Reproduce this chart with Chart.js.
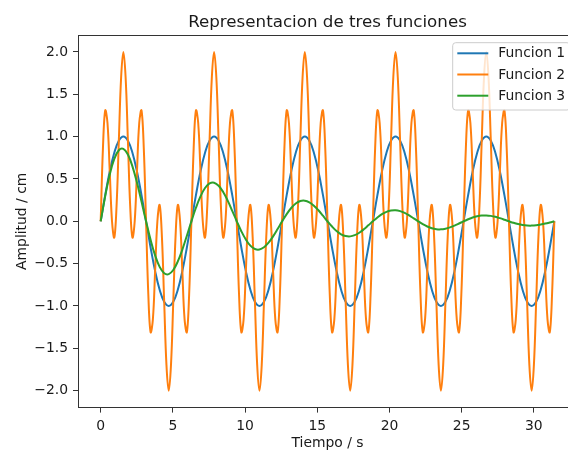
<!DOCTYPE html>
<html><head><meta charset="utf-8">
<script src="https://cdn.jsdelivr.net/npm/chart.js@4/dist/chart.umd.min.js"></script>
<style>html,body{margin:0;padding:0;overflow:hidden;background:#fff;width:568px;height:452px}
#wrap{width:600px;height:452px}</style></head>
<body><div id="wrap"><canvas id="c" width="600" height="452" style="width:600px;height:452px"></canvas></div>
<script>
// Time samples for Funcion 2 (fine step)
const T = [0,0.157,0.314,0.471,0.628,0.785,0.942,1.100,1.257,1.414,1.571,1.728,1.885,2.042,2.199,2.356,2.513,2.670,2.827,2.985,
3.142,3.299,3.456,3.613,3.770,3.927,4.084,4.241,4.398,4.555,4.712,4.869,5.027,5.184,5.341,5.498,5.655,5.812,5.969,6.126,
6.283,6.440,6.597,6.754,6.912,7.069,7.226,7.383,7.540,7.697,7.854,8.011,8.168,8.325,8.482,8.639,8.796,8.954,9.111,9.268,
9.425,9.582,9.739,9.896,10.053,10.210,10.367,10.524,10.681,10.838,10.996,11.153,11.310,11.467,11.624,11.781,11.938,12.095,12.252,12.409,
12.566,12.723,12.881,13.038,13.195,13.352,13.509,13.666,13.823,13.980,14.137,14.294,14.451,14.608,14.765,14.923,15.080,15.237,15.394,15.551,
15.708,15.865,16.022,16.179,16.336,16.493,16.650,16.808,16.965,17.122,17.279,17.436,17.593,17.750,17.907,18.064,18.221,18.378,18.535,18.692,
18.850,19.007,19.164,19.321,19.478,19.635,19.792,19.949,20.106,20.263,20.420,20.577,20.735,20.892,21.049,21.206,21.363,21.520,21.677,21.834,
21.991,22.148,22.305,22.462,22.619,22.777,22.934,23.091,23.248,23.405,23.562,23.719,23.876,24.033,24.190,24.347,24.504,24.662,24.819,24.976,
25.133,25.290,25.447,25.604,25.761,25.918,26.075,26.232,26.389,26.546,26.704,26.861,27.018,27.175,27.332,27.489,27.646,27.803,27.960,28.117,
28.274,28.431,28.588,28.746,28.903,29.060,29.217,29.374,29.531,29.688,29.845,30.002,30.159,30.316,30.473,30.631,30.788,30.945,31.102,31.259,
31.416];
const F2 = [0,0.864,1.309,1.161,0.588,0,-0.191,0.184,0.951,1.695,2,1.695,0.951,0.184,-0.191,0,0.588,1.161,1.309,0.864,0,-0.864,-1.309,-1.161,-0.588,0,0.191,-0.184,-0.951,-1.695,-2,-1.695,-0.951,-0.184,0.191,0,-0.588,-1.161,-1.309,-0.864,
0,0.864,1.309,1.161,0.588,0,-0.191,0.184,0.951,1.695,2,1.695,0.951,0.184,-0.191,0,0.588,1.161,1.309,0.864,0,-0.864,-1.309,-1.161,-0.588,0,0.191,-0.184,-0.951,-1.695,-2,-1.695,-0.951,-0.184,0.191,0,-0.588,-1.161,-1.309,-0.864,
0,0.864,1.309,1.161,0.588,0,-0.191,0.184,0.951,1.695,2,1.695,0.951,0.184,-0.191,0,0.588,1.161,1.309,0.864,0,-0.864,-1.309,-1.161,-0.588,0,0.191,-0.184,-0.951,-1.695,-2,-1.695,-0.951,-0.184,0.191,0,-0.588,-1.161,-1.309,-0.864,
0,0.864,1.309,1.161,0.588,0,-0.191,0.184,0.951,1.695,2,1.695,0.951,0.184,-0.191,0,0.588,1.161,1.309,0.864,0,-0.864,-1.309,-1.161,-0.588,0,0.191,-0.184,-0.951,-1.695,-2,-1.695,-0.951,-0.184,0.191,0,-0.588,-1.161,-1.309,-0.864,
0,0.864,1.309,1.161,0.588,0,-0.191,0.184,0.951,1.695,2,1.695,0.951,0.184,-0.191,0,0.588,1.161,1.309,0.864,0,-0.864,-1.309,-1.161,-0.588,0,0.191,-0.184,-0.951,-1.695,-2,-1.695,-0.951,-0.184,0.191,0,-0.588,-1.161,-1.309,-0.864,
0];
// Time samples for Funcion 1 and 3 (coarser step)
const T10 = [0,0.314,0.628,0.942,1.257,1.571,1.885,2.199,2.513,2.827,3.142,3.456,3.770,4.084,4.398,4.712,5.027,5.341,5.655,5.969,
6.283,6.597,6.912,7.226,7.540,7.854,8.168,8.482,8.796,9.111,9.425,9.739,10.053,10.367,10.681,10.996,11.310,11.624,11.938,12.252,
12.566,12.881,13.195,13.509,13.823,14.137,14.451,14.765,15.080,15.394,15.708,16.022,16.336,16.650,16.965,17.279,17.593,17.907,18.221,18.535,
18.850,19.164,19.478,19.792,20.106,20.420,20.735,21.049,21.363,21.677,21.991,22.305,22.619,22.934,23.248,23.562,23.876,24.190,24.504,24.819,
25.133,25.447,25.761,26.075,26.389,26.704,27.018,27.332,27.646,27.960,28.274,28.588,28.903,29.217,29.531,29.845,30.159,30.473,30.788,31.102,
31.416];
const F1 = [0,0.309,0.588,0.809,0.951,1,0.951,0.809,0.588,0.309,0,-0.309,-0.588,-0.809,-0.951,-1,-0.951,-0.809,-0.588,-0.309,
0,0.309,0.588,0.809,0.951,1,0.951,0.809,0.588,0.309,0,-0.309,-0.588,-0.809,-0.951,-1,-0.951,-0.809,-0.588,-0.309,
0,0.309,0.588,0.809,0.951,1,0.951,0.809,0.588,0.309,0,-0.309,-0.588,-0.809,-0.951,-1,-0.951,-0.809,-0.588,-0.309,
0,0.309,0.588,0.809,0.951,1,0.951,0.809,0.588,0.309,0,-0.309,-0.588,-0.809,-0.951,-1,-0.951,-0.809,-0.588,-0.309,
0,0.309,0.588,0.809,0.951,1,0.951,0.809,0.588,0.309,0,-0.309,-0.588,-0.809,-0.951,-1,-0.951,-0.809,-0.588,-0.309,
0];
const F3 = [0,0.299,0.552,0.736,0.839,0.855,0.788,0.649,0.457,0.233,0,-0.219,-0.403,-0.538,-0.613,-0.624,-0.575,-0.474,-0.334,-0.170,
0,0.160,0.294,0.393,0.447,0.456,0.420,0.346,0.244,0.124,0,-0.117,-0.215,-0.287,-0.327,-0.333,-0.307,-0.253,-0.178,-0.091,
0,0.085,0.157,0.210,0.239,0.243,0.224,0.185,0.130,0.066,0,-0.062,-0.115,-0.153,-0.174,-0.178,-0.164,-0.135,-0.095,-0.048,
0,0.045,0.084,0.112,0.127,0.130,0.120,0.099,0.069,0.035,0,-0.033,-0.061,-0.082,-0.093,-0.095,-0.087,-0.072,-0.051,-0.026,
0,0.024,0.045,0.060,0.068,0.069,0.064,0.053,0.037,0.019,0,-0.018,-0.033,-0.044,-0.050,-0.051,-0.047,-0.038,-0.027,-0.014,
0];
const SERIES_NAMES = ['Funcion 1','Funcion 2','Funcion 3'];
const SERIES_COLORS = ['#1f77b4','#ff7f0e','#2ca02c'];
const XTICKS = [0,5,10,15,20,25,30];
const YTICKS = [-2,-1.5,-1,-0.5,0,0.5,1,1.5,2];
const TITLE = 'Representacion de tres funciones';
const XLABEL = 'Tiempo / s';
const YLABEL = 'Amplitud / cm';

const FONT = '"DejaVu Sans", sans-serif';
const TXT = '#1a1a1a';
const AX = '#333333';

function pts(xs, ys){ return xs.map((x,i)=>({x:x, y:ys[i]})); }

const deco = {
  id:'deco',
  afterDraw(chart){
    const ctx = chart.ctx, a = chart.chartArea;
    ctx.save();
    ctx.strokeStyle = AX; ctx.lineWidth = 1;
    ctx.beginPath();
    ctx.moveTo(a.left, a.top+0.5); ctx.lineTo(a.right, a.top+0.5);
    ctx.stroke();
    ctx.fillStyle = TXT; ctx.textAlign = 'center'; ctx.textBaseline = 'alphabetic';
    ctx.font = '16.7px ' + FONT;
    ctx.fillText(TITLE, (a.left+a.right)/2, 26.7);
    ctx.font = '13.9px ' + FONT;
    ctx.fillText(XLABEL, (a.left+a.right)/2, 446.7);
    ctx.save(); ctx.translate(25.5, (a.top+a.bottom)/2); ctx.rotate(-Math.PI/2);
    ctx.fillText(YLABEL, 0, 0); ctx.restore();
    // legend
    const lx = 452.7, ly = 42.7, lw = 117.3, lh = 67.3, r = 3;
    ctx.beginPath();
    ctx.moveTo(lx+r, ly); ctx.lineTo(lx+lw-r, ly); ctx.arcTo(lx+lw, ly, lx+lw, ly+r, r);
    ctx.lineTo(lx+lw, ly+lh-r); ctx.arcTo(lx+lw, ly+lh, lx+lw-r, ly+lh, r);
    ctx.lineTo(lx+r, ly+lh); ctx.arcTo(lx, ly+lh, lx, ly+lh-r, r);
    ctx.lineTo(lx, ly+r); ctx.arcTo(lx, ly, lx+r, ly, r); ctx.closePath();
    ctx.fillStyle = 'rgba(255,255,255,0.8)'; ctx.fill();
    ctx.strokeStyle = '#cccccc'; ctx.lineWidth = 1; ctx.stroke();
    const rows = [53.3, 74.5, 95.7];
    ctx.textAlign = 'left'; ctx.textBaseline = 'middle'; ctx.font = '13.9px ' + FONT;
    SERIES_NAMES.forEach((n,i)=>{
      ctx.strokeStyle = SERIES_COLORS[i]; ctx.lineWidth = 2;
      ctx.beginPath(); ctx.moveTo(457.3, rows[i]); ctx.lineTo(488.3, rows[i]); ctx.stroke();
      ctx.fillStyle = TXT; ctx.fillText(n, 498.3, rows[i]+0.5);
    });
    ctx.restore();
  }
};

const lineBase = {borderWidth:2, pointRadius:0, tension:0.4, fill:false, borderJoinStyle:'round', borderCapStyle:'butt'};

new Chart(document.getElementById('c'), {
  type:'line',
  data:{
    datasets:[
      Object.assign({label:SERIES_NAMES[0], data:pts(T10,F1), borderColor:SERIES_COLORS[0], order:3}, lineBase),
      Object.assign({label:SERIES_NAMES[1], data:pts(T,F2), borderColor:SERIES_COLORS[1], order:2}, lineBase),
      Object.assign({label:SERIES_NAMES[2], data:pts(T10,F3), borderColor:SERIES_COLORS[2], order:1}, lineBase)
    ]
  },
  options:{
    responsive:false, animation:false, devicePixelRatio:1,
    layout:{padding:{top:35, right:23, left:0, bottom:0}},
    plugins:{legend:{display:false}, title:{display:false}, tooltip:{enabled:false}},
    scales:{
      x:{
        type:'linear', min:-1.5708, max:32.9867,
        afterBuildTicks:s=>{ s.ticks = XTICKS.map(v=>({value:v})); },
        afterFit:s=>{ s.height = 44.4; },
        ticks:{font:{family:FONT, size:13.9}, color:TXT, padding:5, maxRotation:0, autoSkip:false, callback:v=>String(v)},
        grid:{display:true, drawOnChartArea:false, drawTicks:true, tickLength:5, color:AX, tickWidth:1},
        border:{display:true, color:AX, width:1}
      },
      y:{
        type:'linear', min:-2.2, max:2.2,
        afterBuildTicks:s=>{ s.ticks = YTICKS.map(v=>({value:v})); },
        afterFit:s=>{ s.width = 78; },
        ticks:{font:{family:FONT, size:13.9}, color:TXT, padding:5, autoSkip:false, callback:v=>(v<0?'\u2212':'')+Math.abs(v).toFixed(1)},
        grid:{display:true, drawOnChartArea:false, drawTicks:true, tickLength:5, color:AX, tickWidth:1},
        border:{display:true, color:AX, width:1}
      }
    }
  },
  plugins:[deco]
});
</script></body></html>
